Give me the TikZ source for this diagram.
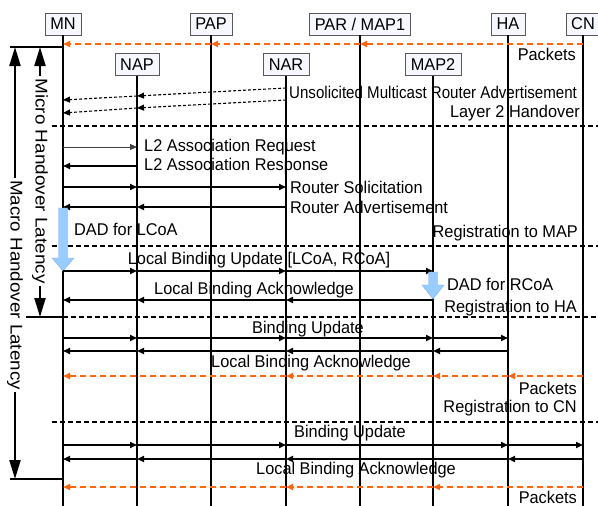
\documentclass[tikz,border=0pt]{standalone}
\usepackage{fontspec}
\setmainfont[FakeStretch=0.96]{Liberation Sans}
\usetikzlibrary{arrows.meta}
\usetikzlibrary{positioning}
\definecolor{pktorange}{RGB}{255,102,17}
\definecolor{dadblue}{RGB}{153,204,255}
\tikzset{
semithick, % all lines semithick
>={Triangle[length=7pt,width=6pt]}, % filled arrow tips
entity/.style={draw=black!65,fill=blue!3,minimum height=22pt,inner xsep=5.5pt,inner ysep=0pt},
lifeline/.style={line width=1.3pt},
msg/.style={->,line width=1.6pt},
thin msg/.style={->,line width=0.8pt,draw=black!75},
advert/.style={->,line width=1.1pt,dash pattern=on 3pt off 2pt},
packets/.style={->,line width=2.2pt,draw=pktorange,fill=pktorange,dash pattern=on 6pt off 4pt},
phase/.style={line width=2.4pt,dash pattern=on 5pt off 3pt},
thin phase/.style={line width=1.4pt,dash pattern=on 5pt off 3pt},
bar/.style={line width=2.6pt},
latency/.style={<->,line width=2.2pt,>={Triangle[length=19pt,width=11pt]}},
latency text/.style={rotate=-90,fill=white,inner xsep=2pt,inner ysep=0pt},
lbl/.style={inner sep=0pt},
dad/.style={fill=dadblue,draw=dadblue!85!blue,line width=0.4pt},
}
% arrows between neighbouring lifelines at one height
\newcommand\sendmsg[3][msg]{\foreach \src/\dst in {#2}{\draw[#1] (\src |- 0,#3) -- (\dst |- 0,#3);}}
% blue DAD arrow hanging below a point
\newcommand\dadarrow[3]{\filldraw[dad] (#1) ++(-4.5,0) -- ++(9,0) -- ++(0,#2) -- ++(6.5,0) -- ++(-11,#3) -- ++(-11,-#3) -- ++(6.5,0) -- cycle;}

\begin{document}
\begin{tikzpicture}[x=1pt,y=-1pt,font=\fontsize{17}{19}\selectfont]
\useasboundingbox (0,0) rectangle (598,506);

% entities
\node[entity] (mn)   at (63,24)    {MN};
\node[entity] (pap)  at (211,24)   {PAP};
\node[entity] (par)  at (360,24)   {PAR / MAP1};
\node[entity] (ha)   at (508,24)   {HA};
\node[entity] (cn)   at (583,24)   {CN};
\node[entity] (nap)  at (137,64.5) {NAP};
\node[entity] (nar)  at (286,64.5) {NAR};
\node[entity] (map2) at (433,64.5) {MAP2};
\foreach \n in {mn,pap,par,ha,cn,nap,nar,map2}
  \draw[lifeline] (\n.south) -- (\n |- 0,506);

% phases
\draw[phase] (52,126) -- (598,126);
\draw[phase] (52,246) -- (598,246);
\draw[phase] (mn |- 0,317) -- (598,317);
\draw[thin phase] (52,422) -- (598,422);
\draw[bar] (10,47) -- (mn |- 0,47);
\draw[bar] (26,317) -- (mn |- 0,317);
\draw[bar] (10,479) -- (mn |- 0,479);

% latencies
\draw[latency] (40,47) -- node[latency text,pos=.496] (micro) {\scalebox{1.16}[1]{Micro Handover Latency}} (40,317);
\draw[latency] (15,47) -- node[latency text,pos=.551] (macro) {\scalebox{1.15}[1]{Macro Handover Latency}} (15,479);

% before handover
\sendmsg[packets]{cn/par,par/pap,pap/mn}{44}
\node[lbl,anchor=east] (pkt1) at (576,54) {Packets};
\draw[advert] (nar |- 0,88) -- (nap |- 0,96);
\draw[advert] (nap |- 0,96) -- (mn |- 0,100);
\draw[advert] (nar |- 0,100) -- (nap |- 0,108);
\draw[advert] (nap |- 0,108) -- (mn |- 0,113);
\node[lbl,anchor=west] (umra) at (289,92) {\scalebox{0.925}[1]{Unsolicited Multicast Router Advertisement}};
\node[lbl,anchor=east] (l2h) at (580,113) {Layer 2 Handover};

% attachment to NAR
\sendmsg[thin msg]{mn/nap}{147}
\sendmsg{nap/mn}{166}
\sendmsg{mn/nap,nap/nar}{187}
\sendmsg{nar/nap,nap/mn}{207}
\node[lbl,anchor=west] (l2req) at (144,147) {L2 Association Request};
\node[lbl,anchor=west] (l2rsp) at (144,166) {L2 Association Response};
\node[lbl,anchor=west] (rs) at (290,187) {Router Solicitation};
\node[lbl,anchor=west] (ra) at (290,207) {Router Advertisement};
\dadarrow{mn |- 0,208}{50}{13}
\node[lbl,anchor=west] (dadl) at (74,229) {DAD for LCoA};
\node[lbl,anchor=east] (regmap) at (578,233) {Registration to MAP};

% registration to MAP
\sendmsg{mn/nap,nap/nar,nar/map2}{271}
\node[lbl] (lbu) at (259,260) {Local Binding Update [LCoA, RCoA]};
\dadarrow{map2 |- 0,272}{13}{14}
\node[lbl,anchor=west] (dadr) at (447,284) {DAD for RCoA};
\sendmsg{map2/nar,nar/nap,nap/mn}{300}
\node[lbl] (lba1) at (254,290) {Local Binding Acknowledge};
\node[lbl,anchor=east] (regha) at (577,308) {Registration to HA};

% registration to HA
\sendmsg{mn/nap,nap/nar,nar/map2,map2/ha}{338}
\node[lbl] (bu1) at (308,329) {Binding Update};
\sendmsg{ha/map2,map2/nar,nar/nap,nap/mn}{351}
\node[lbl] (lba2) at (311,363) {Local Binding Acknowledge};
\sendmsg[packets]{cn/ha,ha/map2,map2/nar,nar/mn}{376}
\node[lbl,anchor=east] (pkt2) at (577,388) {Packets};
\node[lbl,anchor=east] (regcn) at (577,408) {Registration to CN};

% registration to CN
\sendmsg{mn/nap,nap/nar,nar/ha,ha/cn}{445}
\node[lbl] (bu2) at (350,433) {Binding Update};
\sendmsg{cn/ha,ha/nar,nar/nap,nap/mn}{459}
\node[lbl] (lba3) at (356,470) {Local Binding Acknowledge};
\sendmsg[packets]{cn/map2,map2/nar,nar/mn}{487}
\node[lbl,anchor=base east] (pkt3) at (577,503) {Packets};
\end{tikzpicture}
\end{document}
